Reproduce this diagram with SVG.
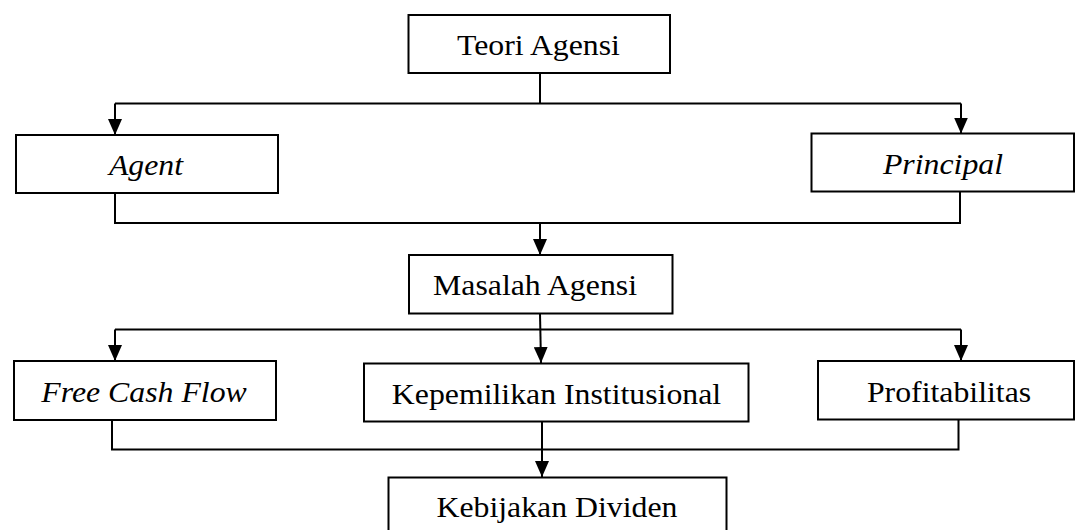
<svg xmlns="http://www.w3.org/2000/svg" width="1075" height="530" viewBox="0 0 1075 530">
<style>
.box{fill:#fff;stroke:#000;stroke-width:2}
.t{font-family:"Liberation Serif","Times New Roman",serif;font-size:30px;fill:#000;text-anchor:middle}
.i{font-style:italic}
.c{fill:none;stroke:#000;stroke-width:2}
</style>
<defs>
<marker id="ah" viewBox="0 0 16 14" refX="16" refY="7" markerWidth="16" markerHeight="14" markerUnits="userSpaceOnUse" orient="auto">
<path d="M0,0 L16,7 L0,14 z" fill="#000"/>
</marker>
</defs>
<rect width="1075" height="530" fill="#fff"/>
<g id="connectors">
<path class="c" d="M540,73 V103.5 M115,103.5 H961"/>
<path class="c" d="M115,103.5 V135" marker-end="url(#ah)"/>
<path class="c" d="M961,103.5 V133.5" marker-end="url(#ah)"/>
<path class="c" d="M115,193 V223 H960 V191.5"/>
<path class="c" d="M540,223 V255" marker-end="url(#ah)"/>
<path class="c" d="M115,329.5 H961"/>
<path class="c" d="M540,313.5 L541,363" marker-end="url(#ah)"/>
<path class="c" d="M115,329.5 V361" marker-end="url(#ah)"/>
<path class="c" d="M961,329.5 V361" marker-end="url(#ah)"/>
<path class="c" d="M112,420 V449.5 H958.5 V419.5"/>
<path class="c" d="M542,421.5 V477" marker-end="url(#ah)"/>
</g>
<g id="teori"><rect class="box" x="408.5" y="15" width="261.5" height="58"/><text class="t" transform="translate(538.5,55) scale(1.06,1)">Teori Agensi</text></g>
<g id="agent"><rect class="box" x="16" y="135" width="262" height="58"/><text class="t i" transform="translate(146,175) scale(1.06,1)">Agent</text></g>
<g id="principal"><rect class="box" x="811.5" y="133.5" width="262.5" height="58"/><text class="t i" transform="translate(943,173.5) scale(1.06,1)">Principal</text></g>
<g id="masalah"><rect class="box" x="409" y="255" width="263.5" height="58.5"/><text class="t" transform="translate(535,295) scale(1.06,1)">Masalah Agensi</text></g>
<g id="fcf"><rect class="box" x="14" y="361" width="262" height="59"/><text class="t i" transform="translate(144,401.5) scale(1.06,1)">Free Cash Flow</text></g>
<g id="kepemilikan"><rect class="box" x="364" y="363.5" width="384.5" height="58"/><text class="t" transform="translate(556.5,403.5) scale(1.06,1)">Kepemilikan Institusional</text></g>
<g id="profitabilitas"><rect class="box" x="818" y="361" width="256" height="58.5"/><text class="t" transform="translate(949,401.5) scale(1.06,1)">Profitabilitas</text></g>
<g id="kebijakan"><rect class="box" x="388.5" y="477.5" width="338" height="70"/><text class="t" transform="translate(557,516.5) scale(1.06,1)">Kebijakan Dividen</text></g>
</svg>
